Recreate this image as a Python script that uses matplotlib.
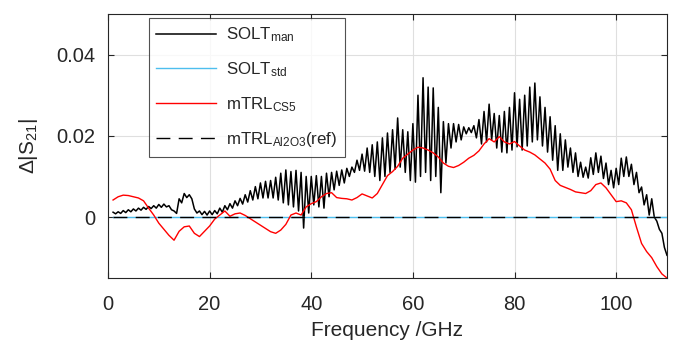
import numpy as np
import matplotlib
matplotlib.use("Agg")
import matplotlib.pyplot as plt

plt.rcParams['font.family'] = ['Liberation Sans', 'DejaVu Sans']
plt.rcParams['mathtext.fontset'] = 'custom'
plt.rcParams['mathtext.rm'] = 'Liberation Sans'
plt.rcParams['mathtext.it'] = 'Liberation Sans'
plt.rcParams['mathtext.default'] = 'regular'

# ---- data ----
# SOLT_man: local maxima at integer GHz (1..110) and local minima at half GHz (1.5..109.5)
black_peak_f = list(range(1, 111))
black_peak = [
    0.0012, 0.0013, 0.0016, 0.0018, 0.0020, 0.0022, 0.0024, 0.0026, 0.0028, 0.0031,
    0.0032, 0.0028, 0.0015, 0.0045, 0.0058, 0.0055, 0.0020, 0.0015, 0.0014, 0.0015,
    0.0016, 0.0022, 0.0028, 0.0033, 0.0040, 0.0046, 0.0055, 0.0065, 0.0075, 0.0084,
    0.0088, 0.0090, 0.0098, 0.0108, 0.0116, 0.0112, 0.0115, 0.0110, 0.0100, 0.0100,
    0.0102, 0.0100, 0.0108, 0.0110, 0.0113, 0.0116, 0.0120, 0.0123, 0.0140, 0.0155,
    0.0170, 0.0178, 0.0185, 0.0195, 0.0207, 0.0215, 0.0244, 0.0215, 0.0210, 0.0230,
    0.0300, 0.0343, 0.0320, 0.0318, 0.0270, 0.0235, 0.0230, 0.0230, 0.0228, 0.0222,
    0.0220, 0.0225, 0.0240, 0.0260, 0.0278, 0.0255, 0.0250, 0.0260, 0.0270, 0.0306,
    0.0290, 0.0300, 0.0320, 0.0330, 0.0296, 0.0270, 0.0247, 0.0225, 0.0205, 0.0190,
    0.0170, 0.0158, 0.0135, 0.0123, 0.0146, 0.0158, 0.0150, 0.0133, 0.0115, 0.0120,
    0.0145, 0.0148, 0.0130, 0.0110, 0.0074, 0.0055, 0.0045, -0.0010, -0.0040, -0.0094,
]
black_trough_f = [k + 0.5 for k in range(1, 110)]
black_trough = [
    0.0008, 0.0009, 0.0011, 0.0013, 0.0015, 0.0017, 0.0019, 0.0021, 0.0022, 0.0024,
    0.0025, 0.0018, 0.0009, 0.0035, 0.0048, 0.0045, 0.0010, 0.0006, 0.0005, 0.0006,
    0.0008, 0.0012, 0.0018, 0.0022, 0.0028, 0.0032, 0.0037, 0.0042, 0.0045, 0.0047,
    0.0047, 0.0047, 0.0042, 0.0035, 0.0030, 0.0025, 0.0015, -0.0027, 0.0010, 0.0030,
    0.0025, 0.0022, 0.0050, 0.0067, 0.0078, 0.0084, 0.0100, 0.0110, 0.0115, 0.0113,
    0.0110, 0.0100, 0.0090, 0.0100, 0.0110, 0.0118, 0.0123, 0.0110, 0.0090, 0.0086,
    0.0100, 0.0110, 0.0090, 0.0100, 0.0060, 0.0133, 0.0170, 0.0185, 0.0190, 0.0205,
    0.0208, 0.0195, 0.0180, 0.0185, 0.0190, 0.0170, 0.0160, 0.0158, 0.0165, 0.0173,
    0.0165, 0.0175, 0.0185, 0.0190, 0.0175, 0.0160, 0.0140, 0.0115, 0.0115, 0.0123,
    0.0110, 0.0100, 0.0098, 0.0096, 0.0105, 0.0110, 0.0095, 0.0080, 0.0072, 0.0080,
    0.0100, 0.0100, 0.0080, 0.0060, 0.0030, 0.0005, 0.0000, -0.0030, -0.0075,
]

# mTRL_CS5
red_f = list(range(1, 111))
red = [
    0.0042, 0.0050, 0.0054, 0.0053, 0.0050, 0.0047, 0.0040, 0.0022, 0.0005, -0.0015,
    -0.0030, -0.0045, -0.0057, -0.0035, -0.0024, -0.0022, -0.0040, -0.0048, -0.0035, -0.0022,
    -0.0005, 0.0005, 0.0015, 0.0002, 0.0008, 0.0010, 0.0004, -0.0004, -0.0012, -0.0020,
    -0.0028, -0.0036, -0.0040, -0.0032, -0.0018, 0.0005, 0.0010, 0.0005, 0.0025, 0.0033,
    0.0038, 0.0050, 0.0058, 0.0060, 0.0048, 0.0046, 0.0045, 0.0042, 0.0048, 0.0057,
    0.0052, 0.0047, 0.0058, 0.0080, 0.0102, 0.0112, 0.0125, 0.0145, 0.0155, 0.0165,
    0.0172, 0.0170, 0.0165, 0.0158, 0.0148, 0.0133, 0.0125, 0.0122, 0.0127, 0.0135,
    0.0145, 0.0152, 0.0163, 0.0180, 0.0193, 0.0185, 0.0198, 0.0185, 0.0180, 0.0186,
    0.0175, 0.0165, 0.0160, 0.0153, 0.0143, 0.0133, 0.0118, 0.0090, 0.0078, 0.0073,
    0.0068, 0.0062, 0.0060, 0.0058, 0.0065, 0.0080, 0.0084, 0.0072, 0.0055, 0.0038,
    0.0040, 0.0035, 0.0018, -0.0025, -0.0065, -0.0085, -0.0100, -0.0122, -0.0140, -0.0150,
]

# SOLT_std and the mTRL_Al2O3 reference both sit at zero
ref_f = [1, 110]
solt_std = [0.0, 0.0]
ref = [0.0, 0.0]

labels = ["SOLT$_{man}$", "SOLT$_{std}$", "mTRL$_{CS5}$", "mTRL$_{Al2O3}$(ref)"]
x_ticks = [0, 20, 40, 60, 80, 100]
y_ticks = [0, 0.02, 0.04]
y_tick_labels = ["0", "0.02", "0.04"]

# interleave peaks and troughs in frequency order
bf = []
bv = []
for i in range(len(black_peak_f)):
    bf.append(black_peak_f[i]); bv.append(black_peak[i])
    if i < len(black_trough_f):
        bf.append(black_trough_f[i]); bv.append(black_trough[i])

fig = plt.figure(figsize=(6.77, 3.54), dpi=100)
ax = fig.add_axes([0.1595, 0.2147, 0.8257, 0.7458])

dark = '#262626'
ax.plot(bf, bv, color='black', lw=1.1, label=labels[0], zorder=3)
ax.plot(ref_f, solt_std, color='#4DBEEE', lw=1.0, label=labels[1], zorder=4)
ax.plot(red_f, red, color='#FF0000', lw=1.0, label=labels[2], zorder=5)
ax.plot(ref_f, ref, color='black', lw=1.0, ls=(0, (10, 6)), label=labels[3], zorder=6)

ax.set_xlim(0, 110)
ax.set_ylim(-0.015, 0.05)
ax.set_xticks(x_ticks)
ax.set_yticks(y_ticks)
ax.set_yticklabels(y_tick_labels)
ax.grid(True, color='#dfdfdf', lw=0.8)
ax.set_axisbelow(True)
ax.tick_params(direction='in', length=4, width=0.8, colors=dark, labelsize=14.5,
               top=True, right=True, pad=9)
ax.tick_params(axis='x', pad=12)
for s in ax.spines.values():
    s.set_color(dark)
    s.set_linewidth(0.8)

ax.set_xlabel("Frequency /GHz", fontsize=15, color=dark, labelpad=5)
ax.set_ylabel("Δ|S$_{21}$|", fontsize=15, color=dark, labelpad=12)

leg = ax.legend(loc='upper left', bbox_to_anchor=(0.073, 0.985), fontsize=12.2,
                handlelength=3.5, labelspacing=0.95, borderpad=0.45, handletextpad=0.6,
                frameon=True, fancybox=False, borderaxespad=0)
leg.get_frame().set_edgecolor(dark)
leg.get_frame().set_linewidth(0.8)
for t in leg.get_texts():
    t.set_color(dark)

fig.savefig("out.png", dpi=100)
